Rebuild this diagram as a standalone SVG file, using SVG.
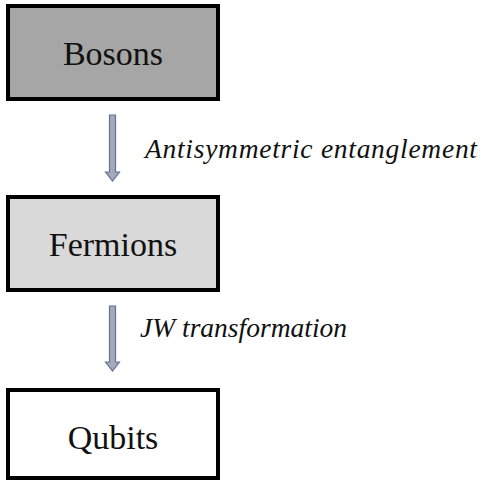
<svg xmlns="http://www.w3.org/2000/svg" width="482" height="482" viewBox="0 0 482 482">
<defs>
<style>
.box{stroke:#000;stroke-width:4}
.lbl{font-size:34px;fill:#111;text-anchor:middle}
.edge{font-size:27.5px;font-style:italic;fill:#111}
.arrow{fill:#a6a9b6;stroke:#5e739c;stroke-width:1.2}
</style>
</defs>
<rect width="482" height="482" fill="#fff"/>
<g id="connectors">
<path class="arrow" d="M109.5,115 H115.5 V172 H119.5 L112.5,181 L105.5,172 H109.5 Z"/>
<text class="edge" font-family="Liberation Serif, Times New Roman, serif" x="145" y="158" textLength="332" lengthAdjust="spacing">Antisymmetric entanglement</text>
<path class="arrow" d="M109.5,306 H115.5 V362 H119.5 L112.5,371 L105.5,362 H109.5 Z"/>
<text class="edge" font-family="Liberation Serif, Times New Roman, serif" x="140" y="337">JW transformation</text>
</g>
<g id="bosons">
<rect class="box" x="8" y="6" width="210" height="93" fill="#a6a6a6"/>
<text class="lbl" font-family="Liberation Serif, Times New Roman, serif" x="113" y="65">Bosons</text>
</g>
<g id="fermions">
<rect class="box" x="8" y="197" width="210" height="93" fill="#d9d9d9"/>
<text class="lbl" font-family="Liberation Serif, Times New Roman, serif" x="113" y="256">Fermions</text>
</g>
<g id="qubits">
<rect class="box" x="8" y="390" width="210" height="88" fill="#fff"/>
<text class="lbl" font-family="Liberation Serif, Times New Roman, serif" x="113" y="449">Qubits</text>
</g>
</svg>
